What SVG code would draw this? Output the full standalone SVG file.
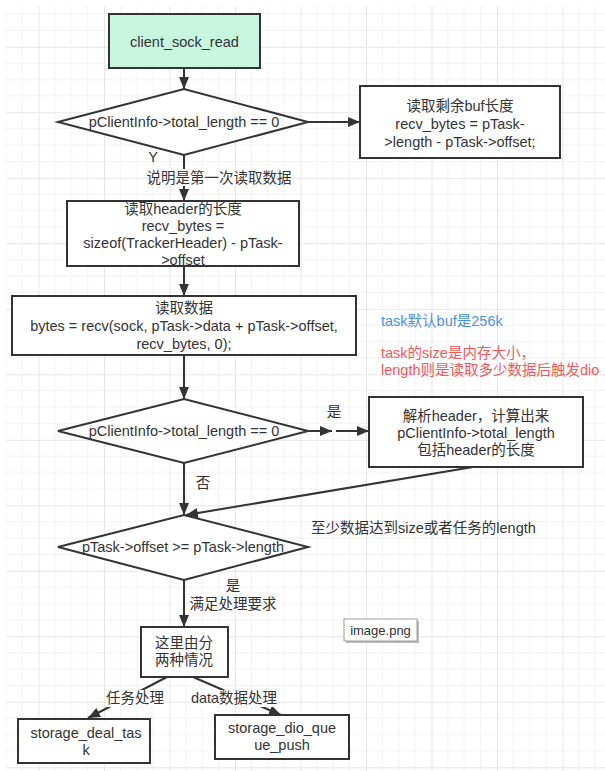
<svg xmlns="http://www.w3.org/2000/svg" width="605" height="771" viewBox="0 0 605 771">
<style>
text{font-family:"Liberation Sans","Noto Sans CJK SC",sans-serif;font-size:14.5px;fill:#333;text-anchor:middle}
.l{text-anchor:start}
.node{fill:#fff;stroke:#333;stroke-width:2}
.conn line{stroke:#333;stroke-width:2;marker-end:url(#ah)}
.lbg{fill:#fff}
.blue{fill:#4a90e2}
.red{fill:#f25a5a}
</style>
<defs>
<marker id="ah" viewBox="0 0 12 10" refX="12" refY="5" markerWidth="12" markerHeight="10" markerUnits="userSpaceOnUse" orient="auto">
<path d="M0,0L12,5L0,10z" fill="#333"/>
</marker>
<pattern id="grid" x="-27" y="-18.7" width="65.5" height="65.5" patternUnits="userSpaceOnUse">
<path d="M16.375 0V65.5M32.75 0V65.5M49.125 0V65.5M0 16.375H65.5M0 32.75H65.5M0 49.125H65.5" stroke="#f2f2f2" stroke-width="1" fill="none"/>
<path d="M0.5 0V65.5M0 0.5H65.5" stroke="#e6e6e6" stroke-width="1" fill="none"/>
</pattern>
</defs>
<rect width="605" height="771" fill="#fff"/>
<rect x="6" y="6" width="599" height="765" fill="url(#grid)"/>

<g class="conn">
<line x1="184" y1="68" x2="184" y2="89"/>
<line x1="308" y1="122" x2="360" y2="122"/>
<line x1="184" y1="155" x2="184" y2="201"/>
<line x1="184" y1="266" x2="184" y2="296"/>
<line x1="184" y1="355" x2="184" y2="399"/>
<line x1="308" y1="431" x2="332" y2="431"/>
<line x1="336" y1="431" x2="369" y2="431"/>
<line x1="184" y1="463" x2="184" y2="515"/>
<line x1="473" y1="467" x2="186" y2="515"/>
<line x1="184" y1="580" x2="184" y2="627"/>
<line x1="167" y1="677" x2="88" y2="718"/>
<line x1="193" y1="677" x2="281" y2="715"/>
</g>

<g id="labels">
<text x="153" y="162">Y</text>
<rect class="lbg" x="150" y="169" width="138" height="17"/>
<text x="219" y="183">说明是第一次读取数据</text>
<text x="334" y="417">是</text>
<text x="203" y="488">否</text>
<text class="l" x="311" y="533">至少数据达到size或者任务的length</text>
<text x="233" y="591">是</text>
<text x="233" y="609">满足处理要求</text>
<rect class="lbg" x="107" y="690" width="56" height="17"/>
<text x="135" y="703">任务处理</text>
<rect class="lbg" x="192" y="690" width="85" height="17"/>
<text x="234" y="703">data数据处理</text>
<text class="l blue" x="381" y="326">task默认buf是256k</text>
<text class="l red" x="381" y="358">task的size是内存大小，</text>
<text class="l red" x="381" y="375">length则是读取多少数据后触发dio</text>
</g>

<g id="start">
<rect x="109" y="14" width="151" height="54" fill="#c8f5e0" stroke="#333" stroke-width="2"/>
<text x="184.5" y="47">client_sock_read</text>
</g>

<g id="cond1">
<polygon class="node" points="58,122 184,89 308,122 184,155"/>
<text x="184" y="127">pClientInfo-&gt;total_length == 0</text>
</g>

<g id="readRemain">
<rect class="node" x="360" y="86" width="200" height="72"/>
<text x="460" y="111">读取剩余buf长度</text>
<text x="460" y="129">recv_bytes = pTask-</text>
<text x="460" y="147">&gt;length - pTask-&gt;offset;</text>
</g>

<g id="readHeader">
<rect class="node" x="67" y="201" width="232" height="65"/>
<text x="183" y="213.5">读取header的长度</text>
<text x="183" y="231">recv_bytes =</text>
<text x="183" y="248">sizeof(TrackerHeader) - pTask-</text>
<text x="183" y="264.5">&gt;offset</text>
</g>

<g id="readData">
<rect class="node" x="12" y="296" width="344" height="59"/>
<text x="184" y="313">读取数据</text>
<text x="184" y="331">bytes = recv(sock, pTask-&gt;data + pTask-&gt;offset,</text>
<text x="184" y="349">recv_bytes, 0);</text>
</g>

<g id="cond2">
<polygon class="node" points="58,431 184,399 308,431 184,463"/>
<text x="184" y="436">pClientInfo-&gt;total_length == 0</text>
</g>

<g id="parseHeader">
<rect class="node" x="369" y="397" width="214" height="70"/>
<text x="476" y="421">解析header，计算出来</text>
<text x="476" y="438">pClientInfo-&gt;total_length</text>
<text x="476" y="455">包括header的长度</text>
</g>

<g id="cond3">
<polygon class="node" points="58,547 184,515 308,547 184,580"/>
<text x="183" y="552">pTask-&gt;offset &gt;= pTask-&gt;length</text>
</g>

<g id="split">
<rect class="node" x="141" y="627" width="87" height="50"/>
<text x="184" y="648">这里由分</text>
<text x="184" y="665">两种情况</text>
</g>

<g id="imageTag">
<rect x="346" y="621" width="73" height="22" fill="#bbb"/>
<rect x="344" y="619" width="73" height="22" fill="#fff" stroke="#999" stroke-width="1"/>
<text x="380.5" y="635" style="font-size:13px">image.png</text>
</g>

<g id="dealTask">
<rect class="node" x="18" y="719" width="132" height="44"/>
<text x="86" y="738">storage_deal_tas</text>
<text x="86" y="755">k</text>
</g>

<g id="dioPush">
<rect class="node" x="215" y="715" width="134" height="44"/>
<text x="282" y="733">storage_dio_que</text>
<text x="282" y="750">ue_push</text>
</g>
</svg>
